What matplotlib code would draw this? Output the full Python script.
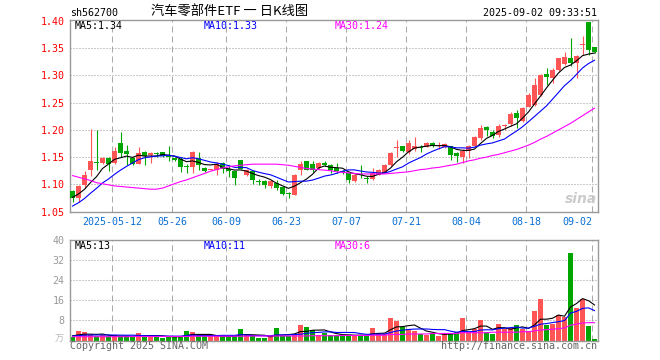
import matplotlib
matplotlib.use("Agg")
import matplotlib.pyplot as plt
import numpy as np

# ---- data: 88 daily sessions, last one = 2025-09-02 ----
opens = [1.088, 1.075, 1.099, 1.126, 1.141, 1.139, 1.149, 1.139, 1.176, 1.162,
         1.148, 1.138, 1.159, 1.153, 1.156, 1.159, 1.151, 1.149, 1.147, 1.132,
         1.131, 1.149, 1.130, 1.127, 1.127, 1.139, 1.129, 1.124, 1.144, 1.118,
         1.124, 1.106, 1.106, 1.096, 1.103, 1.095, 1.083, 1.081, 1.126, 1.142,
         1.138, 1.130, 1.140, 1.135, 1.130, 1.124, 1.120, 1.106, 1.118, 1.111,
         1.110, 1.118, 1.121, 1.135, 1.166, 1.170, 1.159, 1.164, 1.168, 1.169,
         1.176, 1.171, 1.169, 1.170, 1.158, 1.150, 1.161, 1.170, 1.185, 1.205,
         1.197, 1.190, 1.208, 1.210, 1.231, 1.216, 1.243, 1.246, 1.264, 1.303,
         1.295, 1.310, 1.322, 1.332, 1.323, 1.356, 1.398, 1.352]
closes = [1.074, 1.096, 1.118, 1.142, 1.140, 1.149, 1.137, 1.161, 1.157, 1.155,
          1.137, 1.158, 1.152, 1.158, 1.155, 1.152, 1.150, 1.144, 1.131, 1.131,
          1.159, 1.136, 1.124, 1.128, 1.138, 1.129, 1.124, 1.112, 1.129, 1.127,
          1.107, 1.105, 1.098, 1.106, 1.094, 1.083, 1.082, 1.118, 1.138, 1.127,
          1.127, 1.140, 1.136, 1.126, 1.124, 1.122, 1.107, 1.118, 1.117, 1.110,
          1.120, 1.127, 1.135, 1.157, 1.168, 1.162, 1.176, 1.170, 1.167, 1.175,
          1.170, 1.172, 1.174, 1.153, 1.152, 1.161, 1.171, 1.187, 1.204, 1.199,
          1.188, 1.208, 1.209, 1.229, 1.222, 1.240, 1.265, 1.283, 1.301, 1.297,
          1.310, 1.332, 1.334, 1.323, 1.336, 1.357, 1.347, 1.343]
highs = [1.090, 1.098, 1.124, 1.201, 1.200, 1.150, 1.151, 1.169, 1.197, 1.172,
         1.150, 1.169, 1.161, 1.160, 1.160, 1.160, 1.170, 1.150, 1.150, 1.137,
         1.162, 1.159, 1.131, 1.129, 1.141, 1.141, 1.135, 1.125, 1.145, 1.129,
         1.125, 1.109, 1.108, 1.107, 1.107, 1.096, 1.086, 1.119, 1.142, 1.143,
         1.142, 1.141, 1.142, 1.137, 1.139, 1.126, 1.121, 1.119, 1.135, 1.115,
         1.130, 1.128, 1.138, 1.159, 1.181, 1.171, 1.181, 1.187, 1.172, 1.178,
         1.177, 1.178, 1.175, 1.171, 1.159, 1.164, 1.172, 1.188, 1.209, 1.208,
         1.200, 1.210, 1.211, 1.232, 1.237, 1.242, 1.267, 1.296, 1.303, 1.313,
         1.314, 1.333, 1.343, 1.368, 1.337, 1.373, 1.399, 1.352]
lows = [1.068, 1.068, 1.094, 1.116, 1.126, 1.137, 1.124, 1.137, 1.151, 1.136,
        1.135, 1.137, 1.136, 1.140, 1.151, 1.151, 1.142, 1.142, 1.123, 1.120,
        1.120, 1.126, 1.123, 1.126, 1.118, 1.120, 1.113, 1.099, 1.128, 1.116,
        1.101, 1.099, 1.094, 1.093, 1.090, 1.080, 1.074, 1.080, 1.118, 1.126,
        1.122, 1.129, 1.134, 1.120, 1.120, 1.119, 1.103, 1.105, 1.112, 1.102,
        1.107, 1.117, 1.120, 1.134, 1.150, 1.159, 1.156, 1.161, 1.159, 1.168,
        1.168, 1.165, 1.166, 1.145, 1.141, 1.140, 1.148, 1.169, 1.182, 1.188,
        1.185, 1.187, 1.200, 1.207, 1.204, 1.214, 1.242, 1.244, 1.263, 1.283,
        1.286, 1.308, 1.320, 1.318, 1.296, 1.338, 1.338, 1.341]
# volume, 万手
volumes = [1.3, 3.9, 3.4, 2.0, 1.6, 2.0, 1.6, 2.0, 1.6, 1.6,
           1.6, 3.0, 2.0, 1.6, 1.6, 1.1, 1.6, 1.6, 1.6, 3.8,
           3.5, 1.6, 1.6, 1.6, 1.6, 2.0, 1.6, 1.6, 4.6, 2.0,
           1.6, 1.1, 1.1, 1.6, 5.1, 1.9, 1.9, 2.6, 6.2, 5.5,
           4.2, 2.2, 2.9, 2.2, 2.2, 2.2, 1.8, 2.2, 2.2, 2.2,
           5.0, 2.6, 2.6, 9.0, 7.9, 5.5, 4.6, 3.9, 2.6, 2.2,
           3.1, 1.8, 2.6, 3.1, 3.4, 9.0, 3.4, 4.7, 8.2, 3.4,
           2.6, 6.6, 4.7, 5.1, 6.0, 4.7, 3.6, 11.6, 16.5, 6.0,
           6.6, 10.0, 9.2, 34.8, 12.9, 16.5, 5.8, 0.7]
# sessions just before the window (needed for MA5 / MA10)
prev_closes = [1.035, 1.040, 1.045, 1.050, 1.050, 1.065, 1.075, 1.080, 1.086]
prev_volumes = [1.6, 1.6, 1.6, 1.6, 1.6, 2.0, 2.0, 2.0, 2.0]
# MA30 lines
ma30_price = [1.116, 1.113, 1.110, 1.107, 1.103, 1.101, 1.099, 1.097, 1.096, 1.095,
              1.094, 1.093, 1.092, 1.091, 1.091, 1.093, 1.097, 1.101, 1.105, 1.108,
              1.112, 1.116, 1.120, 1.124, 1.127, 1.130, 1.132, 1.134, 1.135, 1.136,
              1.137, 1.137, 1.137, 1.137, 1.137, 1.136, 1.135, 1.133, 1.131, 1.129,
              1.128, 1.127, 1.126, 1.125, 1.123, 1.122, 1.121, 1.120, 1.119, 1.119,
              1.119, 1.119, 1.119, 1.120, 1.121, 1.122, 1.123, 1.125, 1.127, 1.128,
              1.130, 1.131, 1.133, 1.135, 1.137, 1.140, 1.143, 1.145, 1.148, 1.150,
              1.153, 1.155, 1.158, 1.161, 1.164, 1.168, 1.172, 1.177, 1.183, 1.188,
              1.194, 1.200, 1.206, 1.212, 1.219, 1.226, 1.233, 1.240]
ma30_vol = [1.5, 1.5, 1.5, 1.5, 1.5, 1.5, 1.5, 1.5, 1.5, 1.5,
            1.6, 1.6, 1.6, 1.6, 1.6, 1.6, 1.6, 1.6, 1.6, 1.6,
            1.7, 1.7, 1.7, 1.7, 1.7, 1.7, 1.7, 1.7, 1.7, 1.7,
            1.8, 1.8, 1.8, 1.8, 1.8, 1.8, 1.8, 1.8, 1.8, 1.8,
            1.9, 1.9, 1.9, 1.9, 1.9, 2.0, 2.0, 2.0, 2.0, 2.0,
            2.1, 2.1, 2.1, 2.4, 2.4, 2.4, 2.6, 2.6, 2.6, 2.6,
            2.8, 2.8, 2.8, 2.8, 2.8, 3.1, 3.1, 3.1, 3.1, 3.1,
            3.3, 3.3, 3.3, 3.3, 3.3, 3.5, 3.5, 3.8, 4.2, 4.3,
            4.5, 4.7, 5.0, 6.1, 6.5, 7.0, 7.1, 7.1]
date_idx = [7, 17, 26, 36, 46, 56, 66, 76, 87]
date_labels = ["2025-05-12", "05-26", "06-09", "06-23", "07-07",
               "07-21", "08-04", "08-18", "09-02"]
price_ticks = [1.05, 1.10, 1.15, 1.20, 1.25, 1.30, 1.35, 1.40]
vol_ticks = [8, 16, 24, 32, 40]

RED, GREEN = "#ff5555", "#00a600"
MONO = "DejaVu Sans Mono"
CJK = ["Noto Sans CJK SC", "DejaVu Sans"]


def moving_avg(hist, vals, n):
    s = np.r_[hist, vals]
    return np.convolve(s, np.ones(n) / n, mode="valid")[-len(vals):]


W, H = 660, 360
fig = plt.figure(figsize=(W / 100, H / 100), dpi=100)
fx = lambda x: x / W
fy = lambda y: 1 - y / H

ax = fig.add_axes([fx(70), fy(211.5), (597.5 - 70) / W, (211.5 - 20) / H])
axv = fig.add_axes([fx(70), fy(340.5), (597.5 - 70) / W, (340.5 - 240) / H])

x = np.arange(len(closes))
o, c = np.array(opens), np.array(closes)
h, l = np.array(highs), np.array(lows)
v = np.array(volumes)
cols = np.where(c >= o, RED, GREEN)

for a in (ax, axv):
    a.set_xlim(-0.417, 87.5)
    for s in a.spines.values():
        s.set_color("#999999"); s.set_linewidth(1.0)
    a.set_xticks([])
    for d in date_idx:
        a.axvline(d - 0.417, color="#aaaaaa", lw=0.75, dashes=(5.8, 3.8), zorder=0)

# price panel
ax.set_ylim(1.05, 1.402)
for p in price_ticks[1:-1]:
    ax.axhline(p, color="#999999", lw=0.75, dashes=(0.96, 1.92), zorder=0)
ax.vlines(x, l, h, colors=cols, lw=0.8, zorder=2)
ax.bar(x, np.maximum(np.abs(c - o), 0.0018), 0.8, bottom=np.minimum(o, c),
       color=cols, lw=0, zorder=3)
ax.plot(x, moving_avg(prev_closes, closes, 5), color="black", lw=0.8, zorder=4)
ax.plot(x, moving_avg(prev_closes, closes, 10), color="#0000ff", lw=0.8, zorder=4)
ax.plot(x, ma30_price, color="#ff00ff", lw=0.8, zorder=4)
ax.set_yticks(price_ticks)
ax.set_yticklabels([f"{p:.2f}" for p in price_ticks], family=MONO, fontsize=7.2)
ax.tick_params(axis="y", length=0, pad=4, labelcolor="red")

# volume panel
axv.set_ylim(0, 40)
for t in vol_ticks[:-1]:
    axv.axhline(t, color="#999999", lw=0.75, dashes=(0.96, 1.92), zorder=0)
axv.bar(x, v, 0.8, color=cols, lw=0, zorder=2)
axv.plot(x, moving_avg(prev_volumes, volumes, 5), color="black", lw=0.8, zorder=4)
axv.plot(x, moving_avg(prev_volumes, volumes, 10), color="#0000ff", lw=0.8, zorder=4)
axv.plot(x, ma30_vol, color="#ff00ff", lw=0.8, zorder=4)
axv.set_yticks(vol_ticks)
axv.set_yticklabels([str(t) for t in vol_ticks], family=MONO, fontsize=7.2)
axv.tick_params(axis="y", length=0, pad=4, labelcolor="#999999")

# date labels under the price panel
for d, lab in zip(date_idx, date_labels):
    ha = "right" if d == date_idx[-1] else "center"
    ax.text(d - 0.417, -0.055, lab, transform=ax.get_xaxis_transform(),
            ha=ha, va="center", family=MONO, fontsize=7.2, color="#0a6ed2")

# header texts
fig.text(fx(70), fy(13.5), "sh562700", family=MONO, fontsize=7.2, va="center")
fig.text(fx(230), fy(11.5), "汽车零部件ETF 一 日K线图", family=CJK, fontsize=9.5,
         ha="center", va="center")
fig.text(fx(597), fy(12.5), "2025-09-02 09:33:51", family=MONO, fontsize=7.2,
         ha="right", va="center")

# MA legends
for y, vals in ((26, ("MA5:1.34", "MA10:1.33", "MA30:1.24")),
                (246, ("MA5:13", "MA10:11", "MA30:6"))):
    for xx, s, col in zip((74.5, 204, 334.7), vals, ("black", "#0000ff", "#ff00ff")):
        fig.text(fx(xx), fy(y), s, family=MONO, fontsize=7.2, color=col, va="center")

fig.text(fx(55), fy(339), "万", family=CJK, fontsize=6.5, color="#bbbbbb", va="center")
fig.text(fx(70), fy(346), "Copyright 2025 SINA.COM", family=MONO, fontsize=7.2,
         color="#666666", va="center")
fig.text(fx(597), fy(346), "http://finance.sina.com.cn", family=MONO, fontsize=7.2,
         color="#666666", ha="right", va="center")
# faint sina watermark
fig.text(fx(581), fy(199), "sina", fontsize=10, fontweight="bold", style="italic",
         color="#cccccc", ha="center", va="center")

fig.savefig("out.png", dpi=100)
